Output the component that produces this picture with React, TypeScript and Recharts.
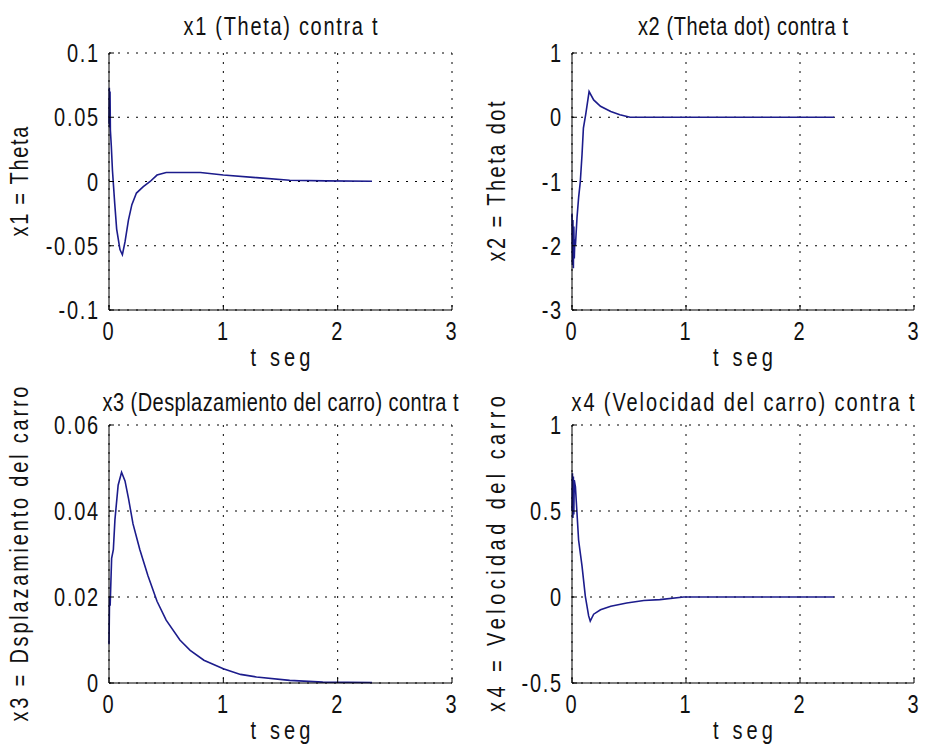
import React from 'react';
import { LineChart, Line, XAxis, YAxis, CartesianGrid } from 'recharts';

// time samples (s) and state values
const T1 = [0, 0.003, 0.006, 0.009, 0.012, 0.02, 0.03, 0.05, 0.067, 0.096, 0.117, 0.14, 0.17, 0.2, 0.24, 0.3, 0.36, 0.42, 0.5, 0.65, 0.8, 1.0, 1.29, 1.58, 1.9, 2.3];
const X1 = [0.045, 0.073, 0.042, 0.07, 0.04, 0.028, 0.009, -0.017, -0.037, -0.053, -0.057, -0.047, -0.03, -0.018, -0.009, -0.004, 0, 0.005, 0.007, 0.007, 0.007, 0.005, 0.003, 0.001, 0.0005, 0.0002];

const T2 = [0, 0.004, 0.008, 0.012, 0.016, 0.02, 0.025, 0.03, 0.044, 0.058, 0.073, 0.088, 0.1, 0.12, 0.15, 0.19, 0.25, 0.34, 0.42, 0.51, 1.0, 2.3];
const X2 = [-1.5, -2.3, -1.6, -2.35, -1.7, -2.2, -1.9, -2.0, -1.56, -1.25, -1.0, -0.58, -0.17, 0.04, 0.4, 0.27, 0.17, 0.09, 0.04, 0, 0, 0];

const T3 = [0, 0.005, 0.01, 0.023, 0.038, 0.052, 0.08, 0.11, 0.14, 0.17, 0.21, 0.27, 0.34, 0.42, 0.5, 0.62, 0.71, 0.83, 1.0, 1.15, 1.29, 1.58, 1.87, 2.3];
const X3 = [0.009, 0.02, 0.018, 0.029, 0.031, 0.038, 0.046, 0.049, 0.047, 0.043, 0.037, 0.031, 0.025, 0.019, 0.0146, 0.01, 0.0076, 0.0053, 0.0033, 0.002, 0.0014, 0.0006, 0.0002, 0.0001];

const T4 = [0, 0.004, 0.008, 0.012, 0.016, 0.02, 0.03, 0.058, 0.088, 0.117, 0.146, 0.16, 0.19, 0.25, 0.34, 0.48, 0.63, 0.77, 0.98, 2.3];
const X4 = [0.5, 0.72, 0.46, 0.7, 0.48, 0.68, 0.64, 0.33, 0.18, 0.004, -0.11, -0.14, -0.1, -0.074, -0.054, -0.035, -0.02, -0.015, 0, 0];

const T_TICKS = [0, 1, 2, 3];
const Y1_TICKS = [-0.1, -0.05, 0, 0.05, 0.1];
const Y2_TICKS = [-3, -2, -1, 0, 1];
const Y3_TICKS = [0, 0.02, 0.04, 0.06];
const Y4_TICKS = [-0.5, 0, 0.5, 1];

const FONT = "'Liberation Sans', Arial, sans-serif";
const TEXT = '#111';
const LINE = '#1c1c8c';
const SX = 0.8; // old MATLAB bitmap font is tall and narrow

const toRows = (t: number[], v: number[]) => t.map((x, i) => ({ t: x, v: v[i] }));

// narrow text: draws at (x, y) baseline, optionally rotated, squeezed horizontally
const SText: React.FC<{ x: number; y: number; anchor: string; rotate?: boolean; length?: number; children: React.ReactNode }> = ({
  x,
  y,
  anchor,
  rotate,
  length,
  children,
}) => (
  <text
    transform={`translate(${x} ${y})${rotate ? ' rotate(-90)' : ''} scale(${SX} 1)`}
    textAnchor={anchor}
    fontFamily={FONT}
    fontSize={25}
    fill={TEXT}
    letterSpacing={length ? undefined : 2.2}
    textLength={length ? length / SX : undefined}
    lengthAdjust="spacing"
  >
    {children}
  </text>
);

const xTick = (p: any) => (
  <SText x={p.x} y={p.y + 18} anchor="middle">
    {String(p.payload.value)}
  </SText>
);

const yTick = (p: any) => (
  <SText x={p.x} y={p.y + 9} anchor="end">
    {String(p.payload.value)}
  </SText>
);

interface PanelProps {
  t: number[];
  v: number[];
  title: string;
  titleLen: number;
  ylabel: string;
  ylabelLen: number;
  yTicks: number[];
  left: number;
  top: number;
  bottomRow: boolean;
  rightCol: boolean;
}

const Panel: React.FC<PanelProps> = ({ t, v, title, titleLen, ylabel, ylabelLen, yTicks, left, top, bottomRow, rightCol }) => {
  const mTop = bottomRow ? 49 : 53;
  const plotH = bottomRow ? 258 : 257;
  const xAxisH = 376 - mTop - plotH;
  const titleY = mTop - (bottomRow ? 14 : 18);
  const ylabelX = rightCol ? 42 : 28;

  return (
    <div style={{ position: 'absolute', left, top }}>
      <LineChart
        width={463}
        height={376}
        data={toRows(t, v)}
        margin={{ top: mTop, right: rightCol ? 12 : 11, bottom: 0, left: 0 }}
      >
        <CartesianGrid stroke="#000" strokeDasharray="2 7" />
        <XAxis
          dataKey="t"
          type="number"
          domain={[0, 3]}
          ticks={T_TICKS}
          height={xAxisH}
          stroke="#000"
          tickSize={-5}
          tickMargin={17}
          tick={xTick}
          label={{
            content: (p: any) => {
              const cx = p.viewBox.x + p.viewBox.width / 2;
              return (
                <g>
                  <SText x={cx} y={p.viewBox.y + 56} anchor="middle" length={60}>
                    t seg
                  </SText>
                  <SText x={cx} y={titleY} anchor="middle" length={titleLen}>
                    {title}
                  </SText>
                </g>
              );
            },
          }}
        />
        <XAxis
          xAxisId="top"
          orientation="top"
          type="number"
          domain={[0, 3]}
          ticks={T_TICKS}
          height={0}
          stroke="#000"
          tickSize={-5}
          tick={false}
        />
        <YAxis
          type="number"
          domain={[yTicks[0], yTicks[yTicks.length - 1]]}
          ticks={yTicks}
          width={109}
          stroke="#000"
          tickSize={-5}
          tickMargin={14}
          tick={yTick}
          label={{
            content: (p: any) => (
              <SText x={ylabelX} y={p.viewBox.y + p.viewBox.height / 2} anchor="middle" rotate length={ylabelLen}>
                {ylabel}
              </SText>
            ),
          }}
        />
        <YAxis
          yAxisId="right"
          orientation="right"
          type="number"
          domain={[yTicks[0], yTicks[yTicks.length - 1]]}
          ticks={yTicks}
          width={0}
          stroke="#000"
          tickSize={-5}
          tick={false}
        />
        <Line type="linear" dataKey="v" stroke={LINE} strokeWidth={1.6} dot={false} isAnimationActive={false} />
      </LineChart>
    </div>
  );
};

export default function App() {
  return (
    <div style={{ position: 'absolute', left: 0, top: 0, width: 926, height: 752, background: '#fff' }}>
      <Panel t={T1} v={X1} title="x1 (Theta) contra t" titleLen={194} ylabel="x1 = Theta" ylabelLen={110} yTicks={Y1_TICKS} left={0} top={0} bottomRow={false} rightCol={false} />
      <Panel t={T2} v={X2} title="x2 (Theta dot) contra t" titleLen={210} ylabel="x2 = Theta dot" ylabelLen={160} yTicks={Y2_TICKS} left={463} top={0} bottomRow={false} rightCol />
      <Panel t={T3} v={X3} title="x3 (Desplazamiento del carro) contra t" titleLen={356} ylabel="x3 = Dsplazamiento del carro" ylabelLen={335} yTicks={Y3_TICKS} left={0} top={376} bottomRow rightCol={false} />
      <Panel t={T4} v={X4} title="x4 (Velocidad del carro) contra t" titleLen={343} ylabel="x4 = Velocidad del carro" ylabelLen={316} yTicks={Y4_TICKS} left={463} top={376} bottomRow rightCol />
    </div>
  );
}
